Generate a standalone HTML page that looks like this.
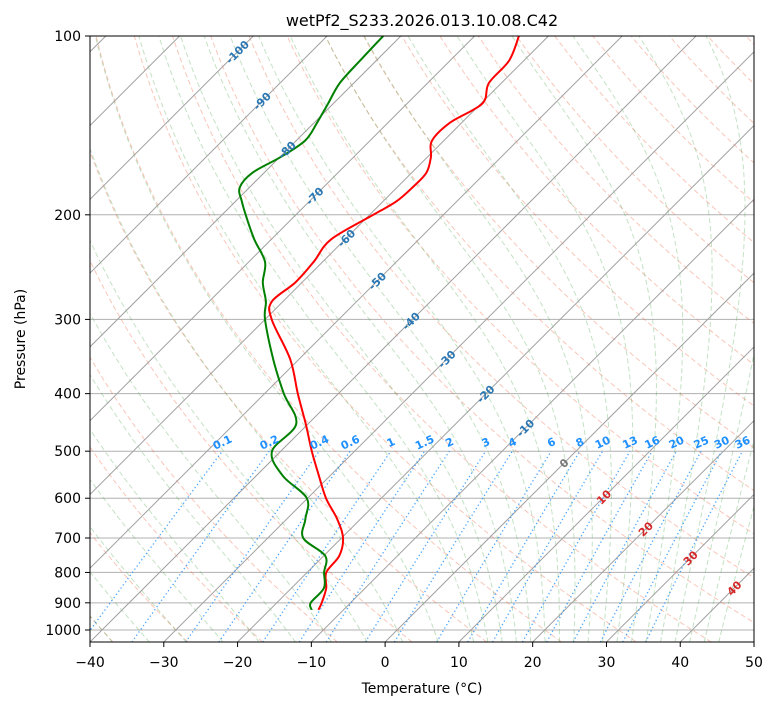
<!DOCTYPE html>
<html><head><meta charset="utf-8"><style>
body{margin:0;background:#fff}
svg text{font-family:"DejaVu Sans","Liberation Sans",sans-serif}
</style></head><body>
<svg id="chart" width="775" height="708" xmlns="http://www.w3.org/2000/svg">
<defs><clipPath id="clip"><rect x="90" y="36" width="664" height="606"/></clipPath></defs>
<text x="422" y="26" font-size="16" text-anchor="middle">wetPf2_S233.2026.013.10.08.C42</text>
<g id="bg" clip-path="url(#clip)"></g>
<g id="series" clip-path="url(#clip)"></g>
<g id="labels"></g>
<rect x="90" y="36" width="664" height="606" fill="none" stroke="#000" stroke-width="1"/>
<g id="axes"></g>
<text x="422" y="693" font-size="14" text-anchor="middle">Temperature (°C)</text>
<text transform="translate(25,339) rotate(-90)" font-size="14" text-anchor="middle">Pressure (hPa)</text>
</svg>
<script>
const pressures=[100,110,120,130,140,150,160,170,180,190,200,220,240,260,280,300,350,400,450,500,550,600,650,700,750,800,850,900,925];
const tempC=[-64.0,-62.0,-61.7,-59.8,-61.6,-61.6,-59.5,-58.0,-57.9,-58.2,-59.5,-61.9,-61.2,-60.9,-61.5,-59.1,-51.2,-45.5,-40.3,-35.8,-31.5,-27.5,-23.2,-19.8,-17.9,-17.4,-15.3,-13.9,-13.4];
const dewC=[-82.4,-82.2,-81.9,-80.7,-79.6,-78.8,-79.9,-81.6,-81.3,-79.1,-76.8,-72.3,-67.8,-65.3,-62.3,-60.0,-53.5,-47.4,-41.6,-41.2,-36.4,-30.1,-27.5,-25.2,-19.8,-17.7,-15.6,-15.4,-14.3];
const xTicks=[-40,-30,-20,-10,0,10,20,30,40,50];
const pTicks=[100,200,300,400,500,600,700,800,900,1000];
const mixRatios=[0.1,0.2,0.4,0.6,1,1.5,2,3,4,6,8,10,13,16,20,25,30,36];
const isoLabels=[-100,-90,-80,-70,-60,-50,-40,-30,-20,-10,0,10,20,30,40];
const isoLabelP=[106.4,128.7,155.6,186,218.9,258.5,301.9,349.9,400.6,457.1,523.6,597.3,676.1,756.5,850];

const NS="http://www.w3.org/2000/svg";
const PMAX=1048;
function yP(p){return 36+594*Math.log10(p/100);}
function xT(T,p){return 90+(T+40)*7.378+(642-yP(p));}
function mk(tag,attrs,parent){const e=document.createElementNS(NS,tag);for(const k in attrs)e.setAttribute(k,attrs[k]);parent.appendChild(e);return e;}
const bg=document.getElementById('bg'),series=document.getElementById('series'),labels=document.getElementById('labels'),axes=document.getElementById('axes');
function pathFrom(pts){return pts.map((q,i)=>(i?'L':'M')+q[0].toFixed(1)+','+q[1].toFixed(1)).join('');}
function smoothFrom(pts){let d='M'+pts[0][0].toFixed(1)+','+pts[0][1].toFixed(1);
 for(let i=0;i<pts.length-1;i++){const p0=pts[Math.max(0,i-1)],p1=pts[i],p2=pts[i+1],p3=pts[Math.min(pts.length-1,i+2)];
  const c1=[p1[0]+(p2[0]-p0[0])/6,p1[1]+(p2[1]-p0[1])/6],c2=[p2[0]-(p3[0]-p1[0])/6,p2[1]-(p3[1]-p1[1])/6];
  d+='C'+c1[0].toFixed(1)+','+c1[1].toFixed(1)+' '+c2[0].toFixed(1)+','+c2[1].toFixed(1)+' '+p2[0].toFixed(1)+','+p2[1].toFixed(1);}
 return d;}
function plevels(p0,p1,n){const a=[];for(let i=0;i<=n;i++)a.push(p0*Math.pow(p1/p0,i/n));return a;}

pTicks.forEach(p=>{
 const l=mk('line',{x1:90,x2:754,y1:yP(p),y2:yP(p),stroke:'#b0b0b0','stroke-width':1},bg);
 
 
});
for(let th=-50;th<=200;th+=10){
 const pts=plevels(PMAX,100,60).map(p=>{const T=(th+273.15)*Math.pow(p/1000,0.2857)-273.15;return [xT(T,p),yP(p)];});
 const e=mk('path',{d:pathFrom(pts),fill:'none',stroke:'#f07050','stroke-opacity':0.4,'stroke-width':1,'stroke-dasharray':'5,3'},bg);
 
 
}
function es(Tc){return 6.112*Math.exp(17.67*Tc/(Tc+243.5));}
function dTdp(T,p){const eps=0.622,Rd=287.04,Lv=2.501e6,Cp=1005.7;const e=es(T-273.15);const rs=eps*e/(p-e);
 return (1/p)*(Rd*T+Lv*rs)/(Cp+Lv*Lv*rs*eps/(Rd*T*T));}
function moist(t0,pEnd){let T=t0+273.15,p=1000;const out=[[T,p]];const n=120;const f=Math.pow(pEnd/1000,1/n);
 for(let i=0;i<n;i++){const p2=p*f,dp=p2-p;const k1=dTdp(T,p),k2=dTdp(T+k1*dp/2,p+dp/2),k3=dTdp(T+k2*dp/2,p+dp/2),k4=dTdp(T+k3*dp,p2);
  T+=dp*(k1+2*k2+2*k3+k4)/6;p=p2;out.push([T,p]);}return out;}
const mStarts=[];for(let t=-50;t<=10;t+=5)mStarts.push(t);for(let t=12;t<=44;t+=2)mStarts.push(t);
mStarts.forEach(t0=>{
 const up=moist(t0,100),dn=moist(t0,PMAX).reverse();
 const pts=dn.concat(up.slice(1)).map(q=>[xT(q[0]-273.15,q[1]),yP(q[1])]);
 const e=mk('path',{d:pathFrom(pts),fill:'none',stroke:'#3a9a3a','stroke-opacity':0.3,'stroke-width':1,'stroke-dasharray':'5,3'},bg);
 
 
});
for(let T=-160;T<=50;T+=10){
 const e=mk('line',{x1:xT(T,PMAX),y1:yP(PMAX),x2:xT(T,100),y2:yP(100),stroke:'#a0a0a0','stroke-width':1},bg);
 
 
}
function tdFromW(w,p){const e=w*p/(622+w);const l=Math.log(e/6.112);return 243.5*l/(17.67-l);}
mixRatios.forEach(w=>{
 const pts=plevels(PMAX,500,20).map(p=>[xT(tdFromW(w,p),p),yP(p)]);
 const e=mk('path',{d:pathFrom(pts),fill:'none',stroke:'#1e90ff','stroke-opacity':0.8,'stroke-width':1.3,'stroke-dasharray':'1.3,2.6'},bg);
 
 
 const x=xT(tdFromW(w,500),500);
 const t=mk('text',{x:x,y:yP(500)-5,'font-size':11,'font-weight':'bold',fill:'#1e90ff','text-anchor':'middle',transform:`rotate(-25 ${x} ${yP(500)-9})`},labels);
 t.textContent=String(w);
 
 
});
isoLabels.forEach((T,i)=>{
 const p=isoLabelP[i],x=xT(T,p),y=yP(p);
 const col=T<0?'#2a77b4':(T===0?'#777':'#d62728');
 const t=mk('text',{x:x,y:y+4,'font-size':11,'font-weight':'bold',fill:col,'text-anchor':'middle',transform:`rotate(-45 ${x} ${y})`},labels);
 t.textContent=String(T);
 
 
});
const tp=mk('path',{d:smoothFrom(pressures.map((p,i)=>[xT(tempC[i],p),yP(p)])),fill:'none',stroke:'#ff0000','stroke-width':2,'stroke-linejoin':'round'},series);


const dp=mk('path',{d:smoothFrom(pressures.map((p,i)=>[xT(dewC[i],p),yP(p)])),fill:'none',stroke:'#008000','stroke-width':2,'stroke-linejoin':'round'},series);


xTicks.forEach(T=>{
 const x=90+(T+40)*7.378;
 const l=mk('line',{x1:x,x2:x,y1:642,y2:647,stroke:'#000'},axes);
 
 
 const t=mk('text',{x:x,y:667,'font-size':14,'text-anchor':'middle'},axes);
 t.textContent=(T<0?'\u2212'+(-T):String(T));
 
 
});
pTicks.forEach(p=>{
 const y=yP(p);
 const l=mk('line',{x1:85,x2:90,y1:y,y2:y,stroke:'#000'},axes);
 
 
 const t=mk('text',{x:81,y:y+5,'font-size':14,'text-anchor':'end'},axes);
 t.textContent=String(p);
 
 
});
</script>
</body></html>
